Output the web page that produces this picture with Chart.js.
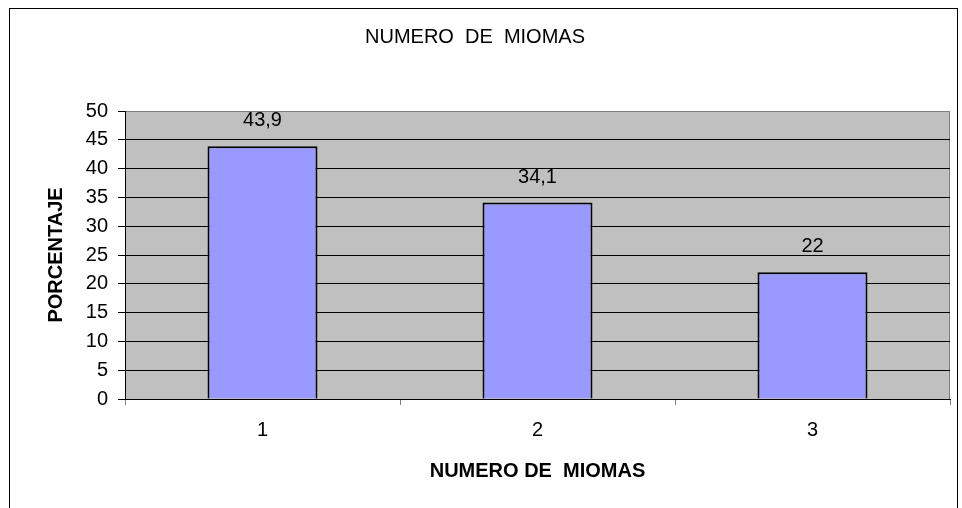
<!DOCTYPE html>
<html>
<head>
<meta charset="utf-8">
<script src="https://cdn.jsdelivr.net/npm/chart.js@4"></script>
<style>
  body { margin: 0; background: #fff; }
  #wrap { width: 962px; height: 508px; }
</style>
</head>
<body>
<div id="wrap"><canvas id="barChart" width="962" height="508"></canvas></div>
<script>
// chart data
const categories = ['1', '2', '3'];
const porcentaje = [43.9, 34.1, 22];
const valueLabels = ['43,9', '34,1', '22'];

const FONT = '"Liberation Sans", Arial, sans-serif';

// grey plot area + outer frame
const frame = {
    id: 'frame',
    beforeDraw(chart) {
        const c = chart.ctx, a = chart.chartArea;
        c.save();
        c.fillStyle = '#fff';
        c.fillRect(0, 0, chart.width, chart.height);
        c.strokeStyle = '#000';
        c.lineWidth = 1;
        c.strokeRect(9.5, 8.5, 948, 600);
        c.fillStyle = '#c0c0c0';
        c.fillRect(a.left, a.top, a.right - a.left, a.bottom - a.top);
        c.strokeStyle = '#808080';
        c.strokeRect(a.left + 0.5, a.top + 0.5, a.right - a.left - 1, a.bottom - a.top);
        c.restore();
    }
};

// value labels above bars
const barLabels = {
    id: 'barLabels',
    afterDatasetsDraw(chart) {
        const c = chart.ctx;
        c.save();
        c.font = '20px ' + FONT;
        c.fillStyle = '#000';
        c.textAlign = 'center';
        c.textBaseline = 'alphabetic';
        chart.getDatasetMeta(0).data.forEach((bar, i) => {
            c.fillText(valueLabels[i], bar.x, bar.y - 20);
        });
        c.restore();
    }
};

new Chart(document.getElementById('barChart').getContext('2d'), {
    type: 'bar',
    data: {
        labels: categories,
        datasets: [{
            data: porcentaje,
            backgroundColor: '#9999ff',
            borderColor: '#000',
            borderWidth: 2,
            categoryPercentage: 1,
            barPercentage: 0.4
        }]
    },
    options: {
        responsive: false,
        animation: false,
        devicePixelRatio: 1,
        layout: { padding: { left: 0, right: 12, top: 0, bottom: 0 } },
        plugins: {
            legend: { display: false },
            tooltip: { enabled: false },
            title: {
                display: true,
                text: 'NUMERO  DE  MIOMAS',
                color: '#000',
                font: { family: FONT, size: 20, weight: 'normal', lineHeight: 1.2 },
                padding: { top: 25, bottom: 62 }
            }
        },
        scales: {
            x: {
                offset: true,
                grid: { offset: true, drawOnChartArea: false, color: '#808080', tickLength: 6 },
                border: { color: '#000' },
                ticks: {
                    color: '#000',
                    padding: 13,
                    font: { family: FONT, size: 20 }
                },
                title: {
                    display: true,
                    text: 'NUMERO DE  MIOMAS',
                    color: '#000',
                    font: { family: FONT, size: 20, weight: 'bold', lineHeight: 1.2 },
                    padding: { top: 0, bottom: 25 }
                },
                afterFit(scale) { scale.height = 109; }
            },
            y: {
                min: 0,
                max: 50,
                ticks: {
                    stepSize: 5,
                    color: '#000',
                    padding: 10,
                    font: { family: FONT, size: 20 }
                },
                grid: {
                    color: (ctx) => (ctx.tick && ctx.tick.value === 50 ? '#808080' : '#000'),
                    tickColor: '#000',
                    tickLength: 7
                },
                border: { color: '#000' },
                title: {
                    display: true,
                    text: 'PORCENTAJE',
                    color: '#000',
                    font: { family: FONT, size: 20, weight: 'bold', lineHeight: 1.2 },
                    padding: { top: 44, bottom: 0 }
                },
                afterFit(scale) { scale.width = 125; }
            }
        }
    },
    plugins: [frame, barLabels]
});
</script>
</body>
</html>
